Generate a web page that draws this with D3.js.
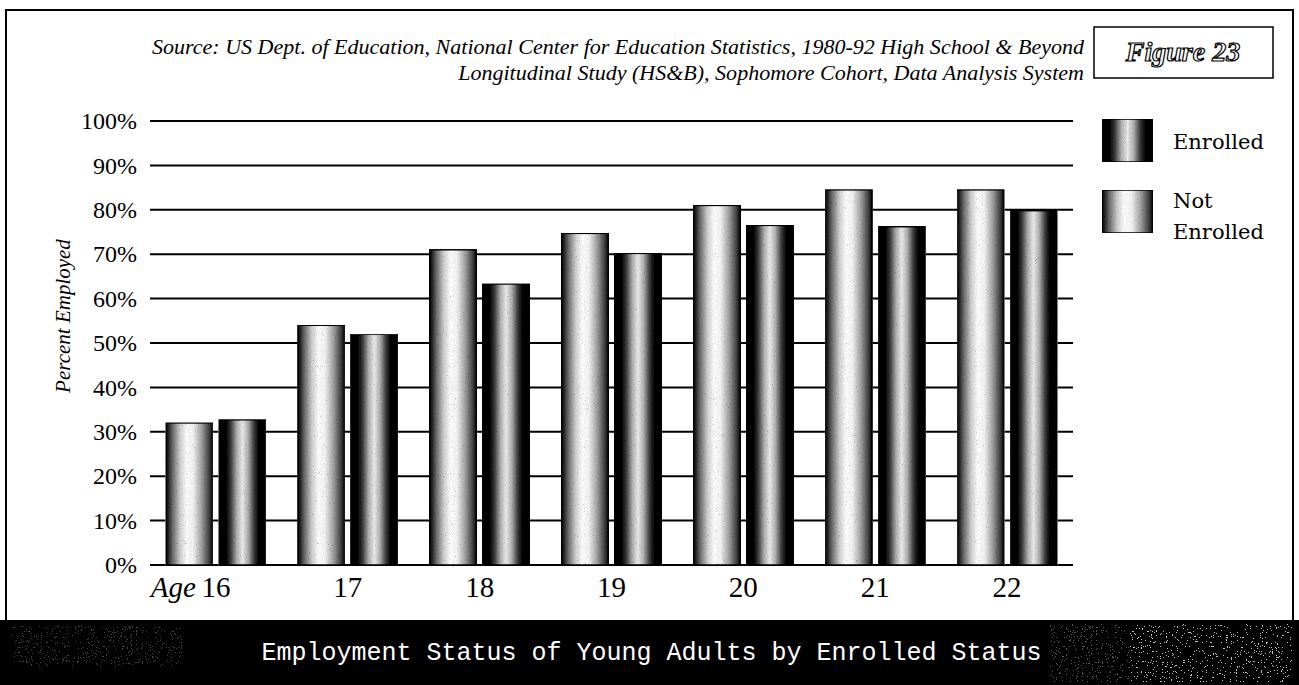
<!DOCTYPE html>
<html>
<head>
<meta charset="utf-8">
<script src="https://cdn.jsdelivr.net/npm/d3@7"></script>
<style>
  html, body { margin: 0; padding: 0; background: #fff; }
  svg { display: block; }
</style>
</head>
<body>
<script>
// Employment of young adults, by age and enrollment status (percent employed)
const ages = ["16", "17", "18", "19", "20", "21", "22"];
const seriesNames = ["Not Enrolled", "Enrolled"];
const notEnrolled = [32, 54, 71, 74.7, 81, 84.5, 84.5];
const enrolled = [32.7, 52, 63.3, 70.2, 76.5, 76.2, 79.8];
const yTicks = [0, 10, 20, 30, 40, 50, 60, 70, 80, 90, 100];
const legendItems = [["Enrolled"], ["Not", "Enrolled"]];
const sourceLines = [
  "Source: US Dept. of Education, National Center for Education Statistics, 1980-92 High School & Beyond",
  "Longitudinal Study (HS&B), Sophomore Cohort, Data Analysis System"
];
const figureLabel = "Figure 23";
const chartTitle = "Employment Status of Young Adults by Enrolled Status";
const yTitle = "Percent Employed";

const W = 1299, H = 685;
const svg = d3.select("body").append("svg").attr("width", W).attr("height", H);
const defs = svg.append("defs");

// shaded cylinder-like fills for the two bar styles
function grad(id, stops) {
  const g = defs.append("linearGradient").attr("id", id)
    .attr("x1", "0%").attr("x2", "100%").attr("y1", "0%").attr("y2", "0%");
  stops.forEach(([o, c]) => g.append("stop").attr("offset", o).attr("stop-color", c));
}
grad("gNot", [["0%", "#000"], ["5%", "#222"], ["14%", "#6a6a6a"], ["30%", "#cfcfcf"], ["44%", "#fff"], ["58%", "#f4f4f4"], ["76%", "#a0a0a0"], ["92%", "#404040"], ["100%", "#000"]]);
grad("gEnr", [["0%", "#000"], ["15%", "#000"], ["25%", "#3a3a3a"], ["38%", "#b0b0b0"], ["50%", "#ececec"], ["62%", "#b0b0b0"], ["75%", "#3a3a3a"], ["85%", "#000"], ["100%", "#000"]]);

// stipple grain over the shaded fills
function grainFilter(id, seed, table, freq) {
  const f = defs.append("filter").attr("id", id).attr("x", 0).attr("y", 0).attr("width", 1).attr("height", 1);
  f.append("feTurbulence").attr("type", "fractalNoise").attr("baseFrequency", freq).attr("numOctaves", 2).attr("seed", seed).attr("result", "n");
  f.append("feColorMatrix").attr("in", "n").attr("type", "matrix")
    .attr("values", "0.33 0.33 0.33 0 0  0.33 0.33 0.33 0 0  0.33 0.33 0.33 0 0  0 0 0 0 1").attr("result", "g");
  const ct = f.append("feComponentTransfer").attr("in", "g").attr("result", "s");
  ["feFuncR", "feFuncG", "feFuncB"].forEach(t => ct.append(t).attr("type", "discrete").attr("tableValues", table));
  return f;
}
const fg = grainFilter("grain", 7, "0.15 0.55 0.9 1 1 1", 1.1);
fg.append("feBlend").attr("in", "SourceGraphic").attr("in2", "s").attr("mode", "multiply").attr("result", "b");
fg.append("feComposite").attr("in", "b").attr("in2", "SourceGraphic").attr("operator", "in");

const fs = grainFilter("speck", 3, "0 0 0 0.55 0.85", 0.8);
fs.append("feComposite").attr("in", "s").attr("in2", "SourceGraphic").attr("operator", "in");

// outer frame
svg.append("rect").attr("x", 6).attr("y", 10).attr("width", 1287).attr("height", 675)
  .attr("fill", "none").attr("stroke", "#000").attr("stroke-width", 2);

// scales
const x = d3.scaleBand().domain(ages).range([150, 1073]).paddingInner(0).paddingOuter(0);
const xs = d3.scaleBand().domain(seriesNames)
  .range([x.bandwidth() / 2 - 50, x.bandwidth() / 2 + 50]).paddingInner(0.113);
const y = d3.scaleLinear().domain([0, 100]).range([565, 121]);

// grid
svg.append("g").selectAll("line").data(yTicks).join("line")
  .attr("x1", 150).attr("x2", 1073)
  .attr("y1", d => y(d)).attr("y2", d => y(d))
  .attr("stroke", "#000").attr("stroke-width", 2);

// y axis labels
const yAxis = svg.append("g").attr("transform", "translate(150,0)")
  .call(d3.axisLeft(y).tickValues(yTicks).tickSize(0).tickPadding(13).tickFormat(d => d + "%"));
yAxis.select(".domain").remove();
yAxis.selectAll("text").attr("font-family", "Liberation Serif").attr("font-size", 24).attr("fill", "#000");

svg.append("text").attr("transform", `translate(70,316) rotate(-90)`)
  .attr("text-anchor", "middle").attr("font-family", "Liberation Serif").attr("font-style", "italic")
  .attr("font-size", 21).text(yTitle);

// bars
const rows = ages.map((a, i) => ({ age: a, vals: [notEnrolled[i], enrolled[i]] }));
const groups = svg.append("g").selectAll("g").data(rows).join("g")
  .attr("transform", d => `translate(${x(d.age)},0)`);
groups.selectAll("rect").data(d => d.vals.map((v, j) => ({ name: seriesNames[j], v }))).join("rect")
  .attr("x", d => xs(d.name)).attr("width", xs.bandwidth())
  .attr("y", d => y(d.v)).attr("height", d => y(0) - y(d.v))
  .attr("fill", d => d.name === "Enrolled" ? "url(#gEnr)" : "url(#gNot)")
  .attr("stroke", "#000").attr("stroke-width", 1.5)
  .attr("filter", "url(#grain)");

// x axis labels
const xAxis = svg.append("g").attr("transform", `translate(0,${y(0)})`)
  .call(d3.axisBottom(x).tickSize(0).tickPadding(11));
xAxis.select(".domain").remove();
xAxis.selectAll("text").attr("font-family", "Liberation Serif").attr("font-size", 29).attr("fill", "#000");
svg.append("text").attr("x", x(ages[0]) + x.bandwidth() / 2 - 20).attr("y", y(0) + 11)
  .attr("dy", "0.71em").attr("text-anchor", "end")
  .attr("font-family", "Liberation Serif").attr("font-style", "italic").attr("font-size", 29).text("Age");

// source note, right aligned, stretched to a common width
const src = svg.append("g").selectAll("text").data(sourceLines).join("text")
  .attr("x", 1084).attr("y", (d, i) => 54 + i * 26).attr("text-anchor", "end")
  .attr("font-family", "Liberation Serif").attr("font-style", "italic").attr("font-size", 21)
  .text(d => d);
const natural = src.nodes().map(n => n.getComputedTextLength());
const k = (1084 - 152) / natural[0];
src.attr("textLength", (d, i) => natural[i] * k).attr("lengthAdjust", "spacingAndGlyphs");

// figure label box
svg.append("rect").attr("x", 1094).attr("y", 27).attr("width", 179).attr("height", 51)
  .attr("fill", "#fff").attr("stroke", "#000").attr("stroke-width", 1.5);
svg.append("text").attr("x", 1183).attr("y", 61).attr("text-anchor", "middle")
  .attr("font-family", "Liberation Serif").attr("font-style", "italic").attr("font-weight", "bold")
  .attr("font-size", 28).attr("fill", "#fff").attr("stroke", "#000").attr("stroke-width", 1.2)
  .text(figureLabel);

// legend
const lg = svg.append("g").selectAll("g").data(legendItems).join("g")
  .attr("transform", (d, i) => `translate(1102,${119 + i * 71})`);
lg.append("rect").attr("width", 51).attr("height", 43)
  .attr("fill", (d, i) => i === 0 ? "url(#gEnr)" : "url(#gNot)")
  .attr("stroke", "#000").attr("stroke-width", 1.5).attr("filter", "url(#grain)");
lg.each(function (d) {
  const t = d3.select(this).append("text").attr("font-family", "DejaVu Serif").attr("font-size", 21);
  d.forEach((line, j) => t.append("tspan").attr("x", 71)
    .attr("y", d.length === 1 ? 30 : 18 + j * 31).text(line));
});

// title band
svg.append("rect").attr("x", 0).attr("y", 620).attr("width", W).attr("height", 65).attr("fill", "#000");
svg.append("rect").attr("x", 1050).attr("y", 624).attr("width", 85).attr("height", 58)
  .attr("fill", "#fff").attr("opacity", 0.45).attr("filter", "url(#speck)");
svg.append("rect").attr("x", 1130).attr("y", 624).attr("width", 162).attr("height", 58)
  .attr("fill", "#fff").attr("filter", "url(#speck)");
svg.append("rect").attr("x", 12).attr("y", 626).attr("width", 170).attr("height", 40)
  .attr("fill", "#666").attr("opacity", 0.35).attr("filter", "url(#speck)");
svg.append("text").attr("x", W / 2 + 2).attr("y", 660).attr("text-anchor", "middle")
  .attr("font-family", "Liberation Mono").attr("font-size", 25).attr("fill", "#fff")
  .text(chartTitle);
</script>
</body>
</html>
